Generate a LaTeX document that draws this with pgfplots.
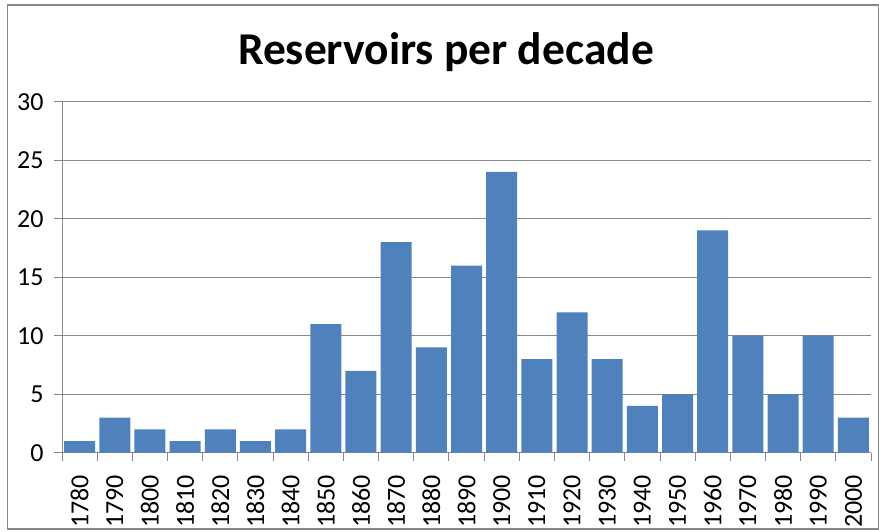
\documentclass[border=0pt]{standalone}
\usepackage{fontspec}
\setmainfont{Carlito}
\usepackage{pgfplots}
\pgfplotsset{compat=1.18}
\definecolor{barblue}{HTML}{4F81BD}
\definecolor{gridgray}{HTML}{878787}
\begin{document}
\begin{tikzpicture}
\useasboundingbox (0pt,0pt) rectangle (879pt,531pt);
\draw[gridgray, line width=1.3pt] (7.5pt,2pt) rectangle (878.5pt,526pt);
\node[anchor=base, font=\bfseries\fontsize{45.5}{54}\selectfont] at (446pt,466pt) {Reservoirs per decade};
\begin{axis}[at={(62pt,78.3pt)}, anchor=south west, scale only axis,
  width=809pt, height=351pt,
  xmin=-0.5, xmax=22.5, ymin=0, ymax=30,
  ytick={0,5,...,30},
  ymajorgrids, grid style={gridgray, line width=0.9pt},
  axis x line*=bottom, axis y line*=left,
  axis line style={gridgray, line width=0.9pt, -},
  xtick={0,...,22},
  xticklabels={1780,1790,1800,1810,1820,1830,1840,1850,1860,1870,1880,1890,1900,1910,1920,1930,1940,1950,1960,1970,1980,1990,2000},
  major x tick style={draw=none},
  minor xtick={-0.5,0.5,...,22.5},
  tick align=outside, major tick length=8pt, minor tick length=8pt,
  tick style={gridgray, line width=0.9pt},
  /pgf/number format/assume math mode=true,
  tick label style={font=\fontsize{26}{30}\selectfont},
  x tick label style={rotate=90, anchor=east, xshift=-11pt},
  y tick label style={xshift=-7pt},
  clip=false,
  ]
\addplot[ybar, bar width=31pt, fill=barblue, draw=none] coordinates {
  (0,1) (1,3) (2,2) (3,1) (4,2) (5,1) (6,2) (7,11) (8,7) (9,18) (10,9) (11,16)
  (12,24) (13,8) (14,12) (15,8) (16,4) (17,5) (18,19) (19,10) (20,5) (21,10) (22,3)
};
\end{axis}
\end{tikzpicture}
\end{document}
